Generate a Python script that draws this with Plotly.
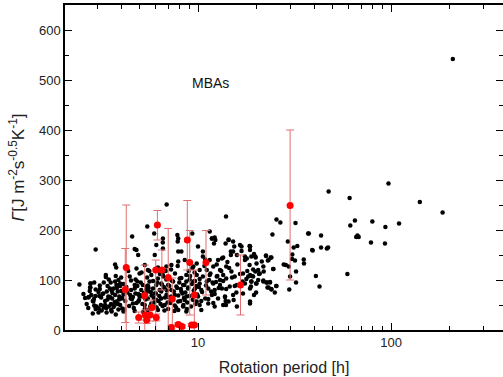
import plotly.graph_objects as go

# ---- black points (MBAs): rotation period [h], thermal inertia ----
bx = [47.5, 97, 61, 110, 80, 65, 61.5, 93.5, 66, 67, 68, 78.7, 93, 59.4, 43.4, 47.2, 46.5, 43.4, 39.3, 37.5,
      40.8, 42.6, 35.3, 35.4, 32, 25.5, 26.7, 24.3, 29.2, 32.7, 31.3, 30.8, 30.7, 31.8, 27.8, 28.5, 29.5, 32.2,
      30, 32.2, 29.7, 24.6, 23, 24, 22.5, 25.5, 23.6, 22.8, 23.2, 24, 25, 209, 185, 141,
      18.6, 19.9, 22.5, 23.2, 23.8, 19.3, 18.6, 20.7, 21.9, 24.5, 18.9, 20, 21.8, 22.6, 23.6, 22.9, 24, 25.4,
      20, 19.5, 18.6, 37.2, 39,
      13.97, 11.8, 12.2, 12.1, 14.4, 13.9, 10.6, 10.6, 15.2, 15.9, 18.5, 18.6, 19.8, 17.5, 13.3, 12.7, 11.5,
      9.85, 9.46, 10.2, 11.1, 12, 13, 14, 14.9, 13.5, 12.5, 11.5, 10.6, 9.85, 9.46, 10.2, 11.1, 12, 13, 14,
      15.5, 17.1, 18.2, 19.8, 20.5, 20.9, 18.9, 17.5, 15.9, 14.6, 13.3, 12.2, 11.3, 10.4, 9.65, 10, 10.9, 11.8,
      12.7, 13.8, 15.2, 17.1, 18.6, 20.1, 21.8, 21.4, 21.8, 20.1, 11.3, 13.5, 14.4, 12.2, 10.2, 10.4, 15.9,
      9.46, 10, 16.5, 15.2, 11.5,
      6.88, 5.46, 4.8, 4.56, 6.57, 5.93, 7.82, 7.85, 7.9, 9.34, 11.8, 12.3, 14.4, 15.4, 16.8, 18.6, 14.8, 13.5,
      17.9, 18.9, 20.5, 18.8, 19.3, 18.6, 13.9, 13.97, 2.7, 2.87, 3.08, 3.23, 2.76, 2.78, 2.94,
      4.43, 4.7, 4.5, 4.74, 4.48, 4.6, 4.9, 4.98, 5.08, 4.85, 4.98, 4.7, 4.9, 5.18, 5.4, 5.5, 5.61, 5.73, 5.85,
      5.97, 6.08, 6.2, 6.33, 6.45, 6.45, 6.58, 6.72, 6.86, 7.0, 7.14, 7.28, 7.43, 7.58, 7.72, 7.9, 8.04, 8.2,
      8.37, 8.54, 8.7, 8.87, 5.3, 5.5, 5.73, 5.97, 6.2, 6.72, 7.0, 7.58, 7.9, 8.37, 8.7, 5.97, 6.08, 6.58, 7.9,
      8.54, 7.9, 6.58, 8.2, 4.8, 5.3, 7.28, 5.5, 6.86, 5.18, 6.08, 7.28, 8.7, 5.5,
      2.95, 2.43, 2.77, 2.77, 2.72, 2.94, 2.89, 3.1, 3.1, 3.33, 3.33, 3.53, 3.5, 3.72, 3.77, 3.72, 3.78, 3.87,
      3.95, 4.0, 3.66, 3.57, 3.37, 3.43, 3.4, 3.59, 3.72, 3.84, 3.91, 4.02, 4.11, 3.78, 3.95, 4.05, 4.11, 3.87,
      3.69, 3.54, 3.45, 3.3, 3.25, 3.14, 3.06, 2.98, 2.9, 2.95, 3.05, 3.17, 3.36, 3.57, 3.75, 2.85,
      3.2, 3.3, 3.4, 3.5, 3.6, 3.7, 3.8, 3.9, 4.0, 3.25, 3.45, 3.65, 3.85, 3.95, 3.55, 3.75, 3.15, 3.35, 3.05, 2.95,
      4.1, 4.2, 4.3, 4.4, 4.5, 4.6, 4.7, 4.8, 4.9, 4.15, 4.35, 4.55, 4.65, 4.75, 4.85, 4.95, 4.25, 4.45, 4.05, 4.7,
      5.05, 5.15, 5.25, 5.35, 5.45, 5.55, 5.65, 5.75, 5.85, 5.95, 5.1, 5.3, 5.5, 5.7, 5.9, 5.2, 5.6, 5.8, 5.4, 5.0,
      6.05, 6.15, 6.25, 6.35, 6.45, 6.55, 6.65, 6.75, 6.85, 6.95, 6.1, 6.3, 6.5, 6.7, 6.9, 6.2, 6.6, 6.4, 6.8, 7.0,
      7.1, 7.2, 7.3, 7.4, 7.5, 7.6, 7.7, 7.8, 7.9, 8.0, 8.1, 8.2, 8.3, 8.4, 8.5, 7.25, 7.55, 7.85, 8.15, 8.45,
      8.6, 8.7, 8.8, 8.9, 9.0, 9.1, 9.2, 9.3, 9.4, 9.5, 9.6, 9.7, 9.8, 9.9, 9.35, 8.75, 9.05, 9.65, 9.85, 8.95,
      10.2, 10.5, 10.8, 11.0, 11.3, 11.6, 11.9, 12.2, 12.5, 12.8, 10.4, 10.9, 11.4, 12.0, 12.6, 13.0, 10.1, 11.7,
      12.4, 13.2,
      13.5, 14, 14.5, 15, 15.5, 16, 16.5, 17, 17.5, 18, 13.8, 14.8, 15.8, 16.8, 17.8, 18.5, 19, 19.5, 14.2, 15.3,
      2.55, 2.65, 2.75, 2.85, 2.6, 2.9, 2.7, 2.8]
by = [277, 293, 264, 213, 217, 219, 209, 206, 186, 189, 186, 175, 173, 112, 189, 165, 163, 165, 159, 193,
      108, 87, 141, 133, 214, 221, 215, 191, 177, 168, 165, 151, 142, 139, 131, 130, 127, 117,
      107, 95, 81, 122, 139, 145, 148, 88, 95, 95, 85, 82, 75, 542, 235, 256,
      167, 145, 149, 140, 145, 121, 110, 112, 117, 122, 97, 93, 99, 95, 96, 85, 81, 88,
      75, 70, 53, 193, 160,
      227, 183, 185, 173, 181, 173, 157, 147, 157, 150, 168, 160, 147, 147, 143, 140, 140,
      133, 127, 120, 120, 127, 120, 127, 117, 110, 107, 110, 107, 110, 97, 93, 97, 93, 100, 103,
      107, 113, 107, 117, 100, 113, 97, 93, 90, 87, 83, 80, 83, 80, 83, 67, 63, 70,
      63, 67, 70, 73, 83, 93, 97, 137, 127, 133, 53, 50, 57, 47, 50, 40, 47,
      60, 167, 170, 177, 197,
      251, 207, 160, 187, 175, 193, 190, 177, 157, 193, 183, 180, 180, 167, 167, 167, 157, 145,
      143, 147, 120, 87, 107, 57, 58, 50, 65, 57, 68, 73, 85, 93, 47,
      107, 90, 80, 73, 63, 53, 57, 67, 80, 97, 113, 162, 150, 90, 87, 77, 97, 110, 83,
      73, 90, 103, 80, 63, 93, 110, 83, 70, 90, 57, 80, 97, 70, 87, 57, 103, 77,
      90, 60, 110, 83, 50, 40, 53, 47, 40, 50, 42, 49, 40, 47, 37, 150, 170, 183, 137,
      140, 183, 163, 157, 123, 130, 130, 120, 127, 67, 60, 67, 67, 63,
      161, 91, 93, 85, 66, 68, 62, 89, 82, 110, 106, 95, 83, 131, 125, 97, 90, 100,
      93, 105, 83, 79, 77, 67, 61, 63, 70, 77, 67, 63, 71, 57, 50, 43, 37, 41,
      49, 52, 47, 50, 45, 50, 43, 47, 49, 42, 35, 39, 35, 37, 31, 33,
      72, 58, 88, 66, 74, 56, 84, 61, 78, 95, 101, 46, 52, 88, 40, 108, 65, 44, 76, 81,
      92, 58, 75, 48, 99, 66, 83, 54, 72, 41, 118, 62, 44, 101, 88, 60, 86, 70, 64, 38,
      95, 52, 74, 61, 105, 84, 47, 69, 98, 56, 115, 42, 89, 76, 64, 36, 118, 45, 81, 70,
      73, 95, 58, 112, 77, 48, 86, 65, 101, 55, 45, 68, 91, 39, 79, 125, 107, 52, 118, 66,
      88, 54, 99, 62, 77, 113, 45, 84, 69, 95, 58, 104, 73, 50, 90, 121, 38, 128, 82, 64,
      75, 97, 55, 85, 68, 108, 47, 92, 61, 79, 115, 52, 88, 71, 124, 42, 101, 98, 57, 118,
      102, 76, 128, 89, 62, 113, 95, 72, 131, 84, 58, 141, 100, 54, 108, 90, 86, 77,
      96, 118,
      98, 82, 124, 105, 88, 131, 112, 97, 140, 118, 66, 150, 75, 158, 102, 130, 108, 152, 136, 60,
      72, 52, 78, 58, 64, 95, 44, 70]

# ---- red points with error bars ----
rx = [4.25, 4.2, 4.93, 5.3, 5.33, 5.42, 5.64, 5.77, 6.04, 6.08, 6.16, 6.5, 7.01, 7.36, 7.28, 7.9, 8.26,
      8.8, 9.06, 9.27, 9.57, 9.57, 11.0, 16.6, 30.0]
ry = [125, 81, 25, 69, 30, 20, 30, 45, 120, 25, 210, 120, 105, 62, 5, 11, 7,
      180, 135, 10, 10, 70, 135, 90, 249]
r_hi = [250, 163, 36, 130, 40, 27, 42, 60, 140, 32, 239, 160, 203, 104, 8, 14, 10,
        259, 199, 13, 13, 120, 199, 150, 400]
r_lo = [-20, 15, 14, -20, 20, 13, 18, 30, -20, 18, 180, 80, -20, 10, 2, 8, 4,
        120, 30, 7, 7, -20, 70, 30, 100]

err_up = [h - v for h, v in zip(r_hi, ry)]
err_dn = [v - l for v, l in zip(ry, r_lo)]

fig = go.Figure()
fig.add_trace(go.Scatter(x=bx, y=by, mode="markers",
                         marker=dict(color="black", size=4.5), showlegend=False))
fig.add_trace(go.Scatter(x=rx, y=ry, mode="markers",
                         marker=dict(color="#ff0000", size=7),
                         error_y=dict(type="data", symmetric=False, array=err_up, arrayminus=err_dn,
                                      color="#e07070", thickness=1, width=4),
                         showlegend=False))

axis_font = dict(family="Liberation Sans, Arial, sans-serif", size=13, color="#222")
fig.update_layout(
    width=503, height=377,
    margin=dict(l=65, r=0, t=5, b=47, autoexpand=False),
    paper_bgcolor="white", plot_bgcolor="white",
    font=dict(family="Liberation Sans, Arial, sans-serif", color="#222"),
    xaxis=dict(type="log", range=[0.311, 2.58], tickmode="array", tickvals=[10, 100],
               ticktext=["10", "100"], ticks="inside", ticklen=7, tickwidth=1, tickcolor="black",
               showline=True, linecolor="black", linewidth=1.5, mirror="ticks", showgrid=False,
               zeroline=False, tickfont=axis_font,
               minor=dict(tickvals=[2, 3, 4, 5, 6, 7, 8, 9, 20, 30, 40, 50, 60, 70, 80, 90, 200, 300],
                          ticks="inside", ticklen=4, tickcolor="black", showgrid=False),
               title=dict(text="Rotation period [h]", font=dict(size=16, color="#222"), standoff=12)),
    yaxis=dict(range=[0, 650], tickmode="linear", tick0=0, dtick=100, ticks="inside", ticklen=7,
               tickcolor="black", showline=True, linecolor="black", linewidth=1.5, mirror="ticks",
               showgrid=False, zeroline=False, tickfont=axis_font,
               minor=dict(dtick=50, ticks="inside", ticklen=4, tickcolor="black", showgrid=False),
               title=dict(text="<i>Γ</i>[J m<sup>-2</sup>s<sup>-0.5</sup>K<sup>-1</sup>]",
                          font=dict(size=17, color="#222"), standoff=10)),
    annotations=[dict(text="MBAs", xref="paper", yref="paper", x=0.285, y=0.79,
                      showarrow=False, font=dict(size=14, color="#111"))],
)

fig.write_html("out.html", config={"displayModeBar": False},
               post_script="document.body.style.margin='0';")
